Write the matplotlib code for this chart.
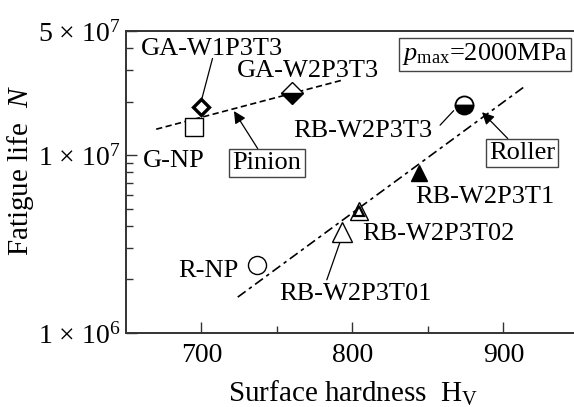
import matplotlib
matplotlib.use('Agg')
import matplotlib.pyplot as plt
from matplotlib.ticker import FixedLocator, FixedFormatter, NullFormatter

plt.rcParams['font.family'] = ['Liberation Serif', 'DejaVu Serif']
plt.rcParams['mathtext.fontset'] = 'custom'
plt.rcParams['mathtext.rm'] = 'Liberation Serif'
plt.rcParams['mathtext.it'] = 'Liberation Serif:italic'
plt.rcParams['lines.scale_dashes'] = False

##### DATA #####
# pinion side
gnp_x, gnp_y = [695], [1.44e7]
gaw1_x, gaw1_y = [700], [1.86e7]
gaw2_x, gaw2_y = [760], [2.23e7]
# roller side
rnp_x, rnp_y = [737], [2.41e6]
rbt01_x, rbt01_y = [793], [3.71e6]
rbt02_x, rbt02_y = [804], [4.86e6]
rbt1_x, rbt1_y = [844], [7.9e6]
rbt3_x, rbt3_y = [874], [1.91e7]
# trend lines (end points)
pinion_x, pinion_y = [670, 793], [1.40e7, 2.64e7]
roller_x, roller_y = [724, 915], [1.59e6, 2.47e7]

xticks = [700, 800, 900]
xminor = [750, 850]
yticks = [1e6, 1e7, 5e7]
ytick_labels = [r'1 × 10$^{6}$', r'1 × 10$^{7}$', r'5 × 10$^{7}$']
yminor = [2e6, 3e6, 4e6, 5e6, 6e6, 7e6, 8e6, 9e6, 2e7, 3e7, 4e7]

fig = plt.figure(figsize=(5.74, 4.07), dpi=100)
ax = fig.add_axes([0.2195, 0.182, 0.7805, 0.742])
ax.set_yscale('log')
ax.set_xlim(650, 946.7)
ax.set_ylim(1e6, 5e7)

# lines
ax.plot(pinion_x, pinion_y, color='black', lw=1.2, dashes=(4.5, 2.5))
ax.plot(roller_x, roller_y, color='black', lw=1.2, dashes=(7, 3, 2.5, 3))

# markers
ax.plot(gnp_x, gnp_y, 's', ms=12.5, mfc='white', mec='black', mew=1.0)
ax.plot(gaw1_x, gaw1_y, 'D', ms=8.5, mfc='white', mec='black', mew=2.4)
ax.plot(gaw2_x, gaw2_y, 'D', ms=11, mfc='black', mfcalt='white', fillstyle='bottom',
        mec='black', mew=1.0)
ax.plot(rnp_x, rnp_y, 'o', ms=13, mfc='white', mec='black', mew=1.0)
ax.plot(rbt01_x, rbt01_y, '^', ms=14, mfc='white', mec='black', mew=1.0)
ax.plot(rbt02_x, rbt02_y, '^', ms=13, mfc='white', mec='black', mew=1.0)
ax.plot(rbt02_x, rbt02_y, '^', ms=6.5, mfc='white', mec='black', mew=1.6)
ax.plot(rbt1_x, rbt1_y, '^', ms=12, mfc='black', mec='black', mew=1.0)
ax.plot(rbt3_x, rbt3_y, 'o', ms=13, mfc='black', mfcalt='white', fillstyle='bottom',
        mec='black', mew=1.3)

fs = 19
line = dict(arrowstyle='-', color='black', lw=0.9, shrinkA=0, shrinkB=0)
arrow = dict(arrowstyle='-|>', color='black', lw=0.9, mutation_scale=18, shrinkA=0, shrinkB=0)
box = dict(boxstyle='square,pad=0.12', fc='white', ec='#444444', lw=1.0)

ax.text(707, 3.65e7, 'GA-W1P3T3', ha='center', va='baseline', fontsize=fs)
ax.annotate('', xy=(700, 2.04e7), xytext=(707.3, 3.5e7), arrowprops=line)
ax.text(770.5, 2.74e7, 'GA-W2P3T3', ha='center', va='baseline', fontsize=fs)
ax.text(681.5, 8.57e6, 'G-NP', ha='center', va='baseline', fontsize=fs)
ax.annotate('Pinion', xy=(721.5, 1.77e7), xytext=(743.4, 9.0e6), ha='center', va='center',
            fontsize=fs, bbox=box, arrowprops=arrow)
ax.annotate('Roller', xy=(885.8, 1.745e7), xytext=(912.3, 1.026e7), ha='center', va='center',
            fontsize=fs, bbox=box, arrowprops=arrow)
ax.text(887.7, 3.69e7, r'$p_{\rm max}$=2000MPa', ha='center', va='center', fontsize=fs, bbox=box)
ax.text(807, 1.26e7, 'RB-W2P3T3', ha='center', va='baseline', fontsize=fs)
ax.annotate('', xy=(867, 1.78e7), xytext=(858, 1.475e7), arrowprops=line)
ax.text(887.7, 5.37e6, 'RB-W2P3T1', ha='center', va='baseline', fontsize=fs)
ax.text(856.6, 3.33e6, 'RB-W2P3T02', ha='center', va='baseline', fontsize=fs)
ax.text(801.7, 1.53e6, 'RB-W2P3T01', ha='center', va='baseline', fontsize=fs)
ax.annotate('', xy=(791.5, 3.2e6), xytext=(783, 1.99e6), arrowprops=line)
ax.text(704.3, 2.07e6, 'R-NP', ha='center', va='baseline', fontsize=fs)

# axes styling
for side in ['left', 'bottom', 'top']:
    ax.spines[side].set_color('#333333')
    ax.spines[side].set_linewidth(1.4)
ax.spines['right'].set_visible(False)

ax.xaxis.set_major_locator(FixedLocator(xticks))
ax.xaxis.set_minor_locator(FixedLocator(xminor))
ax.yaxis.set_major_locator(FixedLocator(yticks))
ax.yaxis.set_major_formatter(FixedFormatter(ytick_labels))
ax.yaxis.set_minor_locator(FixedLocator(yminor))
ax.yaxis.set_minor_formatter(NullFormatter())
ax.tick_params(which='major', direction='in', length=8, width=1.0, color='#333333',
               labelsize=20, right=False, top=False)
ax.tick_params(which='minor', direction='in', length=5, width=1.0, color='#333333',
               right=False, top=False)
ax.tick_params(axis='x', which='major', pad=7)
ax.tick_params(axis='y', which='major', pad=4)

ax.set_xlabel(r'Surface hardness  H$_{\rm V}$', fontsize=21)
ax.set_ylabel(r'Fatigue life  $N$', fontsize=21)
ax.xaxis.set_label_coords(0.507, -0.153)
ax.yaxis.set_label_coords(-0.2, 0.536)

fig.savefig('out.png', dpi=100)
